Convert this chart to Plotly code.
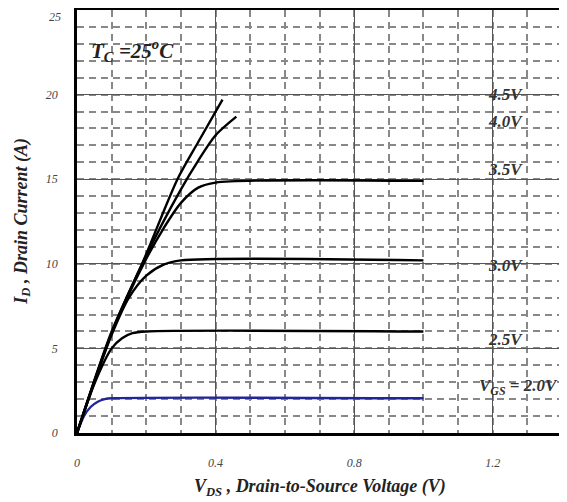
import plotly.graph_objects as go

# Data (Vds in V, Id in A)
vds_20 = [0, 0.02, 0.04, 0.06, 0.08, 0.10, 1.0]
id_20 = [0, 1.0, 1.55, 1.85, 2.0, 2.05, 2.05]

vds_25 = [0, 0.05, 0.10, 0.13, 0.16, 0.20, 1.0]
id_25 = [0, 2.9, 5.0, 5.6, 5.9, 6.0, 6.0]

vds_30 = [0, 0.05, 0.10, 0.15, 0.20, 0.25, 0.30, 1.0]
id_30 = [0, 3.0, 5.8, 8.0, 9.3, 9.95, 10.2, 10.2]

vds_35 = [0, 0.10, 0.20, 0.25, 0.30, 0.35, 0.40, 1.0]
id_35 = [0, 5.9, 10.3, 12.1, 13.6, 14.5, 14.8, 14.9]

vds_40 = [0, 0.10, 0.20, 0.30, 0.35, 0.40, 0.46]
id_40 = [0, 5.9, 10.5, 14.4, 16.1, 17.6, 18.7]

vds_45 = [0, 0.10, 0.19, 0.29, 0.35, 0.42]
id_45 = [0, 6.0, 10.1, 15.0, 17.2, 19.7]

labels = ["4.5V", "4.0V", "3.5V", "3.0V", "2.5V"]
label_y = [20.0, 18.4, 15.6, 9.9, 5.55]
vgs_label = "V<sub>GS</sub> = 2.0V"
vgs_label_y = 2.7

x_ticks = [0, 0.4, 0.8, 1.2]
x_tick_text = ["0", "0.4", "0.8", "1.2"]
y_ticks = [0, 5, 10, 15, 20, 25]

fig = go.Figure()
curves = [
    (vds_20, id_20, "#23239a"),
    (vds_25, id_25, "black"),
    (vds_30, id_30, "black"),
    (vds_35, id_35, "black"),
    (vds_40, id_40, "black"),
    (vds_45, id_45, "black"),
]
for xs, ys, col in curves:
    fig.add_trace(go.Scatter(x=xs, y=ys, mode="lines",
                             line=dict(color=col, width=2.4, shape="spline", smoothing=0.8),
                             showlegend=False, hoverinfo="skip"))

# emphasized dashed grid line at 16 A
fig.add_shape(type="line", xref="paper", x0=0, x1=1, yref="y", y0=16, y1=16,
              line=dict(color="#111", width=1.5, dash="7px,5px"), layer="below")

lab_font = dict(family="Liberation Serif", size=17, color="#333", style="italic", weight="bold")
for t, yv in zip(labels, label_y):
    fig.add_annotation(x=1.18, y=yv, text=t, showarrow=False, xanchor="left",
                       yanchor="middle", font=lab_font)
fig.add_annotation(x=1.395, y=vgs_label_y, text=vgs_label, showarrow=False,
                   xanchor="right", yanchor="middle", font=lab_font)
fig.add_annotation(x=0.035, y=22.6, text="T<sub>C</sub> =25<sup>o</sup>C", showarrow=False,
                   xanchor="left", yanchor="middle",
                   font=dict(family="Liberation Serif", size=21, color="#222", style="italic", weight="bold"))

title_font = dict(family="Liberation Serif", size=18, color="#222", style="italic", weight="bold")
fig.add_annotation(xref="paper", yref="paper", x=0.5, y=-0.13, yanchor="middle",
                   text="V<sub>DS</sub> , Drain-to-Source Voltage (V)", showarrow=False, font=title_font)
fig.add_annotation(xref="paper", yref="paper", x=-0.113, y=0.5, xanchor="center", textangle=-90,
                   text="I<sub>D</sub> , Drain Current (A)", showarrow=False, font=title_font)

tick_font = dict(family="Liberation Serif", size=12, color="#444", style="italic")

# top y tick label drawn as annotation so it is not hidden at the figure edge
fig.add_annotation(xref="paper", x=0, yref="y", y=y_ticks[-1], text=str(y_ticks[-1]),
                   showarrow=False, xanchor="right", yanchor="top", xshift=-14, yshift=2,
                   font=tick_font)

fig.update_layout(
    width=559, height=494,
    margin=dict(l=69, r=5, t=2, b=69),
    paper_bgcolor="white", plot_bgcolor="white",
    xaxis=dict(range=[0, 1.4], tickvals=x_ticks, ticktext=x_tick_text, automargin=False,
               showgrid=True, gridcolor="#555", gridwidth=1.2,
               minor=dict(dtick=0.1, showgrid=True, gridcolor="#888", griddash="7px,5px", gridwidth=1.5),
               showline=True, linecolor="black", linewidth=2.5, mirror=True,
               zeroline=False, ticks="", tickfont=tick_font, ticklabelstandoff=17),
    yaxis=dict(range=[0, 25], tickvals=y_ticks[:-1], automargin=False,
               showgrid=True, gridcolor="#555", gridwidth=1.2,
               minor=dict(dtick=1, showgrid=True, gridcolor="#888", griddash="7px,5px", gridwidth=1.5),
               showline=True, linecolor="black", linewidth=2.5, mirror=True,
               zeroline=False, ticks="", tickfont=tick_font, ticklabelstandoff=14),
)
fig.write_html("out.html")
